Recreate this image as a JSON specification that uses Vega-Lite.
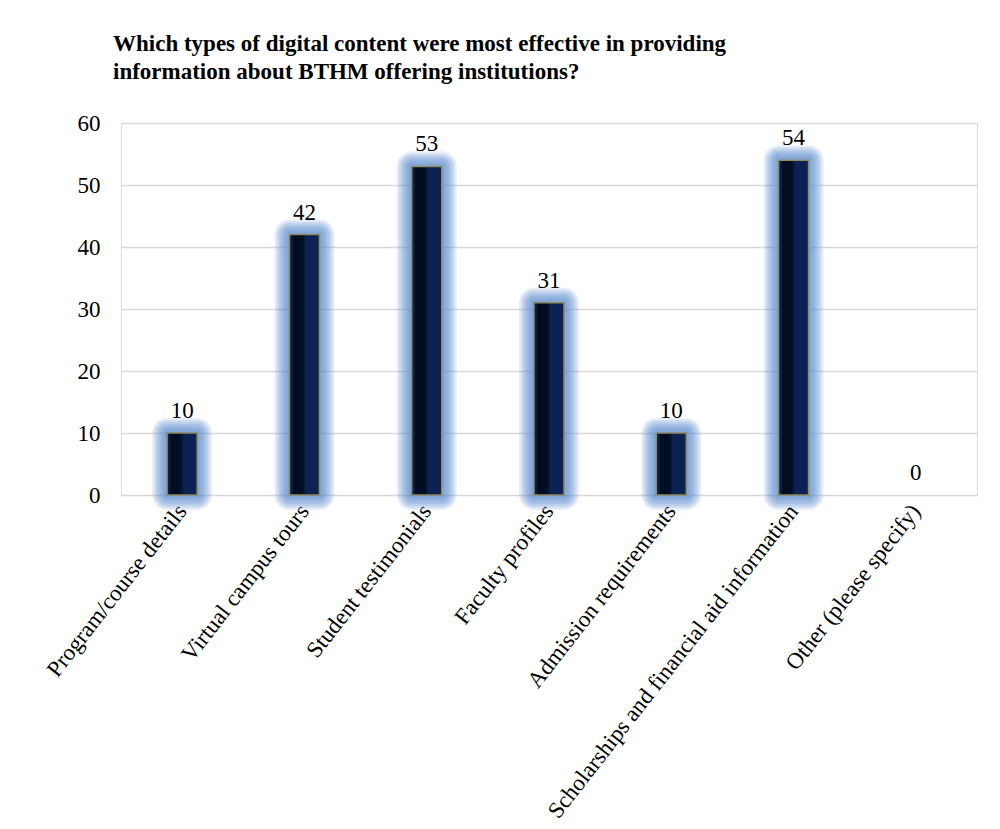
{
  "$schema": "https://vega.github.io/schema/vega-lite/v6.json",
  "width": 856,
  "height": 372,
  "autosize": "none",
  "padding": {"left": 121, "top": 123, "right": 23, "bottom": 334},
  "background": "white",
  "config": {
    "title": {"font": "Liberation Serif", "fontWeight": 700},
    "font": "Liberation Serif"
  },
  "title": {
    "text": ["Which types of digital content were most effective in providing", "information about BTHM offering institutions?"],
    "anchor": "start",
    "frame": "group",
    "dx": -8,
    "offset": 28,
    "font": "Liberation Serif",
    "fontSize": 23,
    "fontWeight": 700,
    "color": "#000000",
    "lineHeight": 28
  },
  "data": {
    "values": [
      {"category": "Program/course details", "count": 10},
      {"category": "Virtual campus tours", "count": 42},
      {"category": "Student testimonials", "count": 53},
      {"category": "Faculty profiles", "count": 31},
      {"category": "Admission requirements", "count": 10},
      {"category": "Scholarships and financial aid information", "count": 54},
      {"category": "Other (please specify)", "count": 0}
    ]
  },
  "encoding": {
    "x": {
      "field": "category",
      "type": "nominal",
      "sort": null,
      "scale": {"paddingInner": 0.75, "paddingOuter": 0.375},
      "axis": {
        "title": null,
        "labelAngle": -52,
        "labelAlign": "right",
        "labelBaseline": "middle",
        "labelFont": "Liberation Serif",
        "labelFontSize": 23,
        "labelColor": "#000000",
        "labelPadding": 12,
        "labelLimit": 600,
        "ticks": false,
        "domain": false,
        "grid": false
      }
    },
    "y": {
      "field": "count",
      "type": "quantitative",
      "scale": {"domain": [0, 60]},
      "axis": {
        "title": null,
        "values": [0, 10, 20, 30, 40, 50, 60],
        "labelFont": "Liberation Serif",
        "labelFontSize": 23,
        "labelColor": "#000000",
        "labelPadding": 21,
        "ticks": false,
        "domain": false,
        "gridColor": "#d9d9d9",
        "gridWidth": 1.5
      }
    }
  },
  "layer": [
    {
      "transform": [{"filter": "datum.count > 0"}],
      "mark": {"type": "bar", "size": 30, "fillOpacity": 0, "stroke": "#5a8acb", "strokeWidth": 30, "strokeOpacity": 0.14, "strokeJoin": "round"}
    },
    {
      "transform": [{"filter": "datum.count > 0"}],
      "mark": {"type": "bar", "size": 30, "fillOpacity": 0, "stroke": "#5a8acb", "strokeWidth": 26, "strokeOpacity": 0.16, "strokeJoin": "round"}
    },
    {
      "transform": [{"filter": "datum.count > 0"}],
      "mark": {"type": "bar", "size": 30, "fillOpacity": 0, "stroke": "#5a8acb", "strokeWidth": 22, "strokeOpacity": 0.18, "strokeJoin": "round"}
    },
    {
      "transform": [{"filter": "datum.count > 0"}],
      "mark": {"type": "bar", "size": 30, "fillOpacity": 0, "stroke": "#5a8acb", "strokeWidth": 18, "strokeOpacity": 0.18, "strokeJoin": "round"}
    },
    {
      "transform": [{"filter": "datum.count > 0"}],
      "mark": {"type": "bar", "size": 30, "fillOpacity": 0, "stroke": "#5a8acb", "strokeWidth": 14, "strokeOpacity": 0.18, "strokeJoin": "round"}
    },
    {
      "transform": [{"filter": "datum.count > 0"}],
      "mark": {"type": "bar", "size": 30, "fillOpacity": 0, "stroke": "#5a8acb", "strokeWidth": 10, "strokeOpacity": 0.18, "strokeJoin": "round"}
    },
    {
      "transform": [{"filter": "datum.count > 0"}],
      "mark": {"type": "bar", "size": 30, "fillOpacity": 0, "stroke": "#5a8acb", "strokeWidth": 6, "strokeOpacity": 0.18, "strokeJoin": "round"}
    },
    {
      "transform": [{"filter": "datum.count > 0"}],
      "mark": {
        "type": "bar",
        "size": 30,
        "fill": {
          "gradient": "linear",
          "x1": 0, "x2": 1, "y1": 0, "y2": 0,
          "stops": [
            {"offset": 0, "color": "#0a1f48"},
            {"offset": 0.1, "color": "#0a1f48"},
            {"offset": 0.12, "color": "#020c1e"},
            {"offset": 0.45, "color": "#020e24"},
            {"offset": 0.55, "color": "#0b2252"},
            {"offset": 1, "color": "#0b2252"}
          ]
        },
        "stroke": "#8f8a62",
        "strokeWidth": 1.5
      }
    },
    {
      "mark": {"type": "text", "baseline": "alphabetic", "dy": -15, "font": "Liberation Serif", "fontSize": 23, "color": "#000000"},
      "encoding": {"text": {"field": "count", "type": "quantitative"}}
    }
  ]
}
